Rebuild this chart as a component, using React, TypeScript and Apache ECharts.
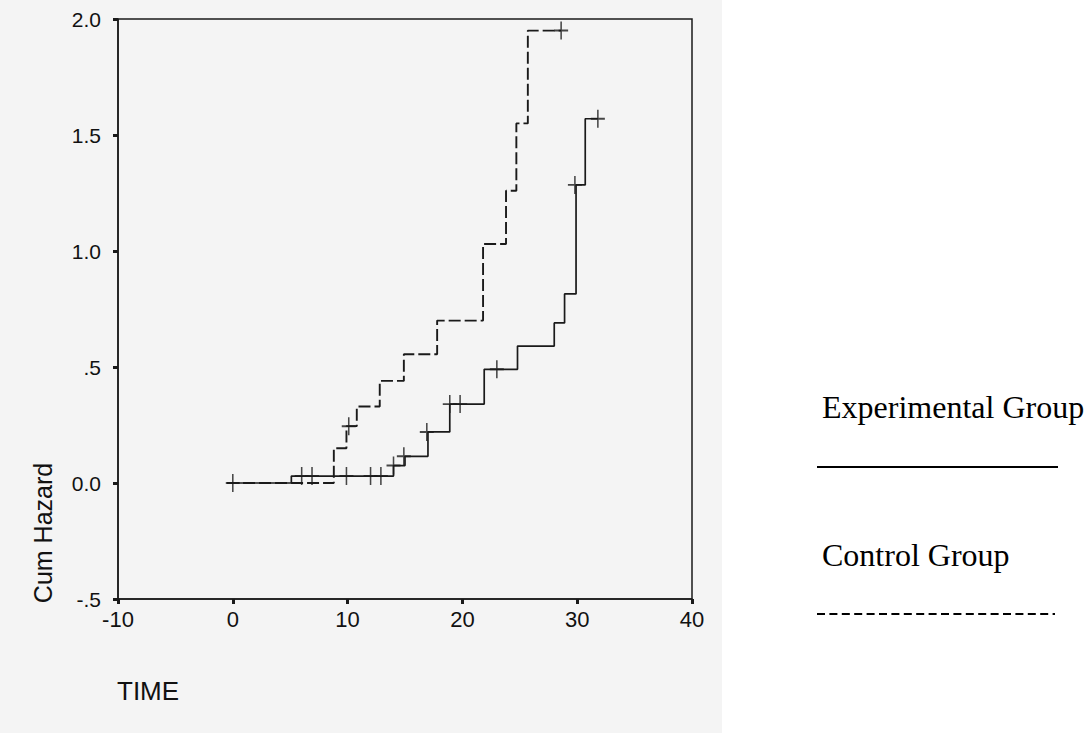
import React, { useEffect, useRef } from "react";
import * as echarts from "echarts";

// Experimental group (solid) step function
const expTimes = [-0.5, 5.1, 14.0, 15.0, 17.0, 18.9, 21.9, 24.8, 28.0, 28.9, 29.9, 30.7, 31.8];
const expHazard = [0, 0.03, 0.075, 0.115, 0.22, 0.34, 0.49, 0.59, 0.69, 0.815, 1.285, 1.57, 1.57];
// Experimental censored marks
const expCensTimes = [0, 6.0, 6.9, 9.9, 12.0, 12.9, 14.0, 14.9, 16.9, 18.9, 19.8, 23.0, 29.8, 31.8];
const expCensHazard = [0, 0.03, 0.03, 0.03, 0.03, 0.03, 0.075, 0.115, 0.22, 0.34, 0.34, 0.49, 1.285, 1.57];

// Control group (dashed) step function
const ctrlTimes = [-0.5, 8.8, 9.9, 10.8, 12.8, 14.9, 17.8, 21.8, 23.8, 24.7, 25.7, 28.6];
const ctrlHazard = [0, 0.15, 0.245, 0.33, 0.44, 0.555, 0.7, 1.03, 1.26, 1.55, 1.95, 1.95];
const ctrlCensTimes = [10.1, 28.6];
const ctrlCensHazard = [0.245, 1.95];

const yTickValues = [-0.5, 0, 0.5, 1, 1.5, 2];
const yTickLabels = ["-.5", "0.0", ".5", "1.0", "1.5", "2.0"];

const plus = "path://M-1.1,-10H1.1V-1.1H10V1.1H1.1V10H-1.1V1.1H-10V-1.1H-1.1Z";
const ink = "#1a1a1a";

export default function App() {
  const ref = useRef<HTMLDivElement>(null);
  useEffect(() => {
    document.body.style.margin = "0";
    const chart = echarts.init(ref.current!, undefined, { renderer: "svg" });
    const zip = (a: number[], b: number[]) => a.map((t, i) => [t, b[i]]);
    chart.setOption({
      animation: false,
      backgroundColor: "#ffffff",
      grid: { left: 118, right: 397, top: 19, bottom: 134, show: true, borderColor: ink, borderWidth: 1.5 },
      xAxis: {
        type: "value",
        min: -10,
        max: 40,
        interval: 10,
        splitLine: { show: false },
        axisLine: { onZero: false, lineStyle: { color: ink, width: 1.5 } },
        axisTick: { length: 5, lineStyle: { color: ink, width: 3 } },
        axisLabel: { color: "#111", fontFamily: "Liberation Sans", fontSize: 22, margin: 9 },
      },
      yAxis: {
        type: "value",
        min: -0.5,
        max: 2,
        interval: 0.5,
        splitLine: { show: false },
        axisLine: { onZero: false, lineStyle: { color: ink, width: 1.5 } },
        axisTick: { length: 5, lineStyle: { color: ink, width: 3 } },
        axisLabel: {
          color: "#111",
          fontFamily: "Liberation Sans",
          fontSize: 21,
          margin: 17,
          formatter: (v: number) => {
            const i = yTickValues.findIndex((x) => Math.abs(x - v) < 1e-6);
            return i >= 0 ? yTickLabels[i] : "";
          },
        },
      },
      graphic: [
        { type: "rect", z: -10, shape: { x: 0, y: 0, width: 722, height: 733 }, style: { fill: "#f4f4f4" } },
        {
          type: "text",
          x: 43,
          y: 533,
          rotation: Math.PI / 2,
          style: { text: "Cum Hazard", font: "25px 'Liberation Sans'", fill: "#111", align: "center", verticalAlign: "middle" },
        },
        {
          type: "text",
          x: 117,
          y: 691,
          style: { text: "TIME", font: "26px 'Liberation Sans'", fill: "#111", align: "left", verticalAlign: "middle" },
        },
        {
          type: "text",
          x: 822,
          y: 407,
          style: { text: "Experimental Group", font: "32px 'Liberation Serif'", fill: "#000", align: "left", verticalAlign: "middle" },
        },
        { type: "line", shape: { x1: 817, y1: 467, x2: 1058, y2: 467 }, style: { stroke: "#000", lineWidth: 2 } },
        {
          type: "text",
          x: 822,
          y: 555,
          style: { text: "Control Group", font: "32px 'Liberation Serif'", fill: "#000", align: "left", verticalAlign: "middle" },
        },
        {
          type: "line",
          shape: { x1: 817, y1: 614, x2: 1055, y2: 614 },
          style: { stroke: "#000", lineWidth: 2, lineDash: [8, 4.4] },
        },
      ],
      series: [
        {
          type: "line",
          step: "end",
          data: zip(expTimes, expHazard),
          showSymbol: false,
          lineStyle: { color: ink, width: 1.7 },
        },
        {
          type: "line",
          step: "end",
          data: zip(ctrlTimes, ctrlHazard),
          showSymbol: false,
          lineStyle: { color: ink, width: 1.9, type: [12, 4] },
        },
        {
          type: "scatter",
          data: zip(expCensTimes, expCensHazard),
          symbol: plus,
          symbolSize: [14, 18],
          itemStyle: { color: ink },
        },
        {
          type: "scatter",
          data: zip(ctrlCensTimes, ctrlCensHazard),
          symbol: plus,
          symbolSize: [14, 18],
          itemStyle: { color: ink },
        },
      ],
    });
    return () => chart.dispose();
  }, []);
  return <div ref={ref} style={{ position: "absolute", left: 0, top: 0, width: 1089, height: 733 }} />;
}
